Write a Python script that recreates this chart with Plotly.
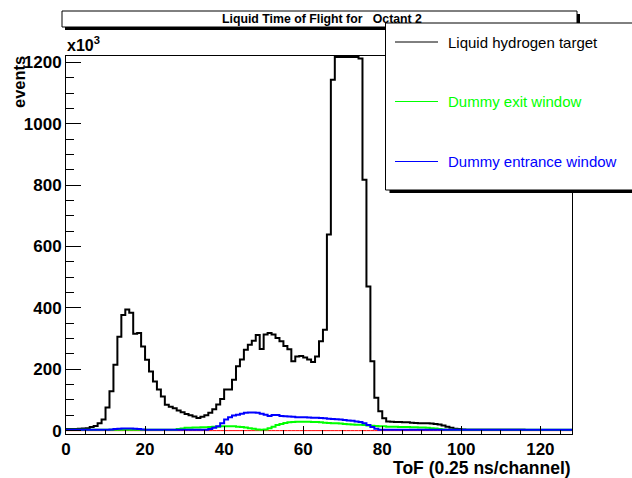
import numpy as np
import plotly.graph_objects as go

# ToF channel binning (0.25 ns per channel)
n_bins = 128
bin_edges = np.arange(n_bins + 1)

# Counts per channel, in units of 10^3 events
lh2_target = [
    5, 5, 5, 6, 7, 8, 12, 15, 24, 36,
    75, 128, 215, 306, 377, 395, 384, 316, 318, 274,
    231, 193, 160, 134, 111, 84, 78, 73, 66, 60,
    54, 50, 46, 41, 45, 50, 58, 70, 85, 103,
    134, 134, 166, 210, 232, 264, 280, 293, 312, 266,
    313, 318, 313, 302, 291, 276, 265, 226, 242, 243,
    238, 232, 224, 242, 291, 329, 639, 1144, 1218, 1218,
    1218, 1218, 1218, 1218, 1213, 818, 470, 226, 107, 63,
    40, 30, 29, 28, 28, 27, 27, 26, 25, 24,
    24, 24, 23, 22, 20, 17, 13, 9, 6, 5,
    4, 3, 3, 3, 3, 3, 3, 3, 3, 3,
    3, 3, 3, 3, 3, 3, 2, 2, 2, 2,
    2, 2, 2, 2, 2, 2, 2, 2,
]
dummy_exit = [
    3, 3, 3, 3, 3, 3, 3, 3, 3, 3,
    3, 3, 3, 3, 3, 3, 3, 3, 3, 3,
    3, 3, 3, 3, 3, 3, 3, 3, 5, 7,
    9, 9, 10, 10, 11, 11, 12, 13, 13, 14,
    14, 14, 14, 13, 12, 10, 8, 6, 4, 3,
    4, 8, 13, 18, 22, 25, 27, 28, 29, 29,
    29, 29, 28, 28, 27, 26, 25, 24, 24, 23,
    22, 21, 20, 19, 19, 18, 17, 16, 15, 14,
    14, 13, 13, 13, 12, 12, 12, 11, 11, 10,
    10, 9, 8, 7, 5, 4, 3, 3, 3, 3,
    3, 3, 3, 3, 3, 3, 3, 3, 3, 3,
    3, 3, 3, 3, 3, 3, 3, 3, 3, 3,
    3, 3, 3, 3, 3, 3, 3, 3,
]
dummy_entrance = [
    3, 3, 3, 3, 3, 3, 3, 3, 3, 3,
    3, 4, 5, 6, 7, 7, 7, 6, 5, 4,
    3, 3, 3, 3, 3, 3, 3, 3, 3, 3,
    3, 3, 3, 3, 3, 3, 5, 9, 14, 24,
    36, 44, 49, 52, 55, 58, 59, 59, 58, 55,
    52, 48, 51, 51, 48, 47, 46, 45, 44, 44,
    44, 43, 42, 42, 41, 40, 39, 38, 37, 36,
    35, 33, 32, 30, 28, 24, 18, 12, 6, 3,
    3, 3, 3, 3, 3, 3, 3, 3, 3, 3,
    3, 3, 3, 3, 3, 3, 3, 3, 3, 3,
    3, 3, 3, 3, 3, 3, 3, 3, 3, 3,
    3, 3, 3, 3, 3, 3, 3, 3, 3, 3,
    3, 3, 3, 3, 3, 3, 3, 3,
]
difference = [0] * n_bins

series_names = ["Liquid hydrogen target", "Dummy exit window", "Dummy entrance window"]
series_colors = ["#000000", "#00ff00", "#0000ff"]

x_ticks = [0, 20, 40, 60, 80, 100, 120]
y_ticks = [0, 200, 400, 600, 800, 1000, 1200]
x_range = [0, 128]
y_range = [-11, 1221]

# Canvas geometry (pixels)
W, H = 632, 478
ML, MR, MT, MB = 66, 60, 56, 44
PW, PH = W - ML - MR, H - MT - MB

FONT = "Liberation Sans, Arial, Helvetica, sans-serif"
NBSP = "\u00a0"


def px(x):
    return (x - ML) / PW


def py(y):
    return (H - MB - y) / PH


def step(values):
    return bin_edges, list(values) + [values[-1]]


fig = go.Figure()

for vals, col, w in [
    (difference, "#ff0000", 1),
    (lh2_target, series_colors[0], 2),
    (dummy_exit, series_colors[1], 2),
    (dummy_entrance, series_colors[2], 2),
]:
    xs, ys = step(vals)
    fig.add_trace(go.Scatter(x=xs, y=ys, mode="lines", line=dict(color=col, width=w, shape="hv"),
                             showlegend=False, hoverinfo="skip"))

axis_common = dict(
    showline=True, mirror=True, linecolor="black", linewidth=1,
    showgrid=False, zeroline=False, ticks="inside", tickcolor="black", tickwidth=1,
    tickfont=dict(family=FONT, size=17, color="black", weight="bold"),
)

fig.update_xaxes(range=x_range, tickvals=x_ticks, ticklen=8,
                 minor=dict(dtick=5, tick0=0, ticks="inside", ticklen=4, tickcolor="black", showgrid=False),
                 **axis_common)
fig.update_yaxes(range=y_range, tickvals=y_ticks, ticklen=15,
                 minor=dict(dtick=50, tick0=0, ticks="inside", ticklen=8, tickcolor="black", showgrid=False),
                 **axis_common)

shapes = []
annotations = []

# Title pave with shadow
tx0, ty0, tx1, ty1 = 62, 11, 577, 27
shapes.append(dict(type="rect", xref="paper", yref="paper", x0=px(tx0 + 3), x1=px(tx1 + 3),
                   y0=py(ty0 + 3), y1=py(ty1 + 3), fillcolor="black", line=dict(width=0), layer="above"))
shapes.append(dict(type="rect", xref="paper", yref="paper", x0=px(tx0), x1=px(tx1),
                   y0=py(ty0), y1=py(ty1), fillcolor="white", line=dict(color="black", width=1), layer="above"))
annotations.append(dict(text="Liquid Time of Flight for" + NBSP * 3 + "Octant 2", xref="paper", yref="paper",
                        x=px(322), y=py((ty0 + ty1) / 2), xanchor="center", yanchor="middle",
                        showarrow=False, font=dict(family=FONT, size=12.3, color="black", weight="bold")))

# Legend pave with shadow
lx0, ly0, lx1, ly1 = 385.5, 23, 640, 190
shapes.append(dict(type="rect", xref="paper", yref="paper", x0=px(lx0 + 4), x1=px(lx1 + 4),
                   y0=py(ly0 + 3), y1=py(ly1 + 3), fillcolor="black", line=dict(width=0), layer="above"))
shapes.append(dict(type="rect", xref="paper", yref="paper", x0=px(lx0), x1=px(lx1),
                   y0=py(ly0), y1=py(ly1), fillcolor="white", line=dict(color="black", width=1), layer="above"))
entry_y = [42, 101.5, 161.5]
for name, col, ey in zip(series_names, series_colors, entry_y):
    shapes.append(dict(type="line", xref="paper", yref="paper", x0=px(395), x1=px(438),
                       y0=py(ey), y1=py(ey), line=dict(color=col, width=1), layer="above"))
    annotations.append(dict(text=name, xref="paper", yref="paper", x=px(446), y=py(ey),
                            xanchor="left", yanchor="middle", showarrow=False,
                            font=dict(family=FONT, size=15, color=col)))

# Axis titles and exponent
annotations.append(dict(text="ToF (0.25 ns/channel)", xref="paper", yref="paper", x=px(573), y=py(468),
                        xanchor="right", yanchor="middle", showarrow=False,
                        font=dict(family=FONT, size=17.5, color="black", weight="bold")))
annotations.append(dict(text="events", xref="paper", yref="paper", x=px(19), y=py(82),
                        xanchor="center", yanchor="middle", textangle=-90, showarrow=False,
                        font=dict(family=FONT, size=16.5, color="black", weight="bold")))
annotations.append(dict(text="x10<sup>3</sup>", xref="paper", yref="paper", x=px(65), y=py(56),
                        xanchor="left", yanchor="bottom", showarrow=False,
                        font=dict(family=FONT, size=16, color="black", weight="bold")))

fig.update_layout(
    width=W, height=H, margin=dict(l=ML, r=MR, t=MT, b=MB, pad=0),
    paper_bgcolor="white", plot_bgcolor="white",
    shapes=shapes, annotations=annotations, showlegend=False,
)

fig.write_html("out.html")
